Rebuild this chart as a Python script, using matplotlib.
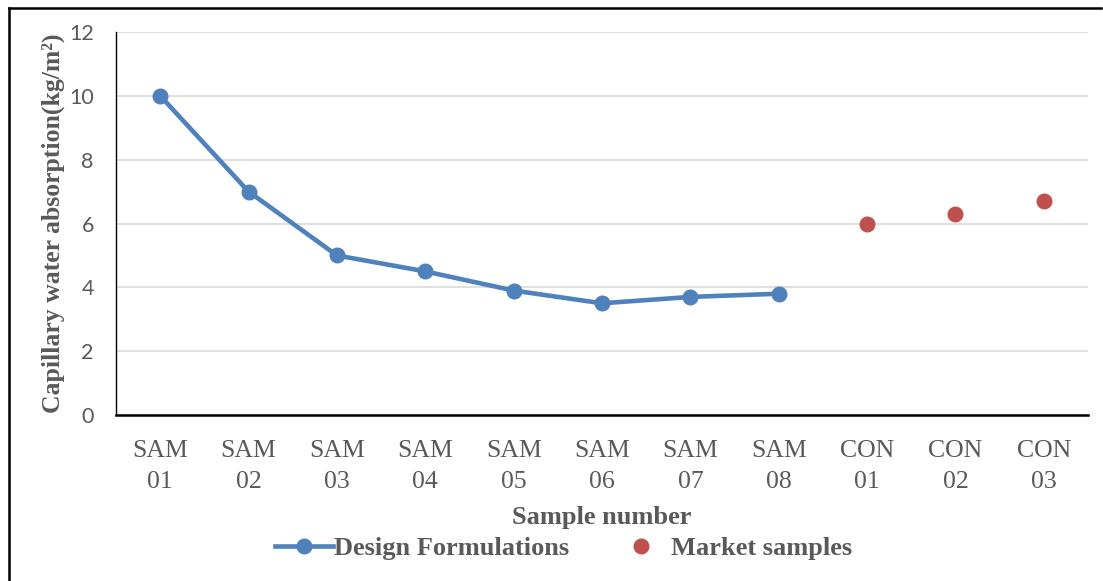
import matplotlib.pyplot as plt
from matplotlib.lines import Line2D

categories = ['SAM\n01', 'SAM\n02', 'SAM\n03', 'SAM\n04', 'SAM\n05', 'SAM\n06',
              'SAM\n07', 'SAM\n08', 'CON\n01', 'CON\n02', 'CON\n03']
design_values = [10.0, 7.0, 5.0, 4.5, 3.9, 3.5, 3.7, 3.8]
market_values = [6.0, 6.3, 6.7]
y_ticks = [0, 2, 4, 6, 8, 10, 12]

blue = '#4F81BD'
red = '#C0504D'
grey = '#595959'
serif = 'Liberation Serif'

fig = plt.figure(figsize=(11.03, 5.81), dpi=100)
ax = fig.add_axes([0.1052, 0.2857, 0.8812, 0.6592])

x_design = list(range(len(design_values)))
x_market = list(range(len(design_values), len(design_values) + len(market_values)))

ax.plot(x_design, design_values, color=blue, lw=3.3, marker='o', ms=10.5,
        label='Design Formulations', zorder=3)
ax.plot(x_market, market_values, ls='none', color=red, marker='o', ms=10.5,
        label='Market samples', zorder=3)

ax.set_xlim(-0.5, len(categories) - 0.5)
ax.set_ylim(0, 12)
ax.set_yticks(y_ticks)
ax.set_xticks(range(len(categories)))
ax.set_xticklabels(categories, fontfamily=serif, fontsize=18.5, color=grey,
                   linespacing=1.5)
for t in ax.get_yticklabels():
    t.set_fontfamily('Lato')
    t.set_fontsize(15.5)
    t.set_color(grey)
ax.tick_params(axis='both', length=0)
ax.tick_params(axis='x', pad=18)
ax.tick_params(axis='y', pad=16)

ax.grid(axis='y', color='#D9D9D9', lw=1.2)
ax.set_axisbelow(True)
for s in ['top', 'right']:
    ax.spines[s].set_visible(False)
ax.spines['left'].set_color('black')
ax.spines['left'].set_linewidth(1.0)
ax.spines['bottom'].set_color('black')
ax.spines['bottom'].set_linewidth(1.8)

ax.set_ylabel('Capillary water absorption(kg/m²)', fontfamily=serif,
              fontweight='bold', fontsize=18.5, color=grey, labelpad=3)
ax.set_xlabel('Sample number', fontfamily=serif, fontweight='bold',
              fontsize=19, color=grey, labelpad=10)

handles = [Line2D([], [], color=blue, lw=3.3, marker='o', ms=10.5),
           Line2D([], [], color=red, ls='none', marker='o', ms=10.5)]
fig.legend(handles, ['Design Formulations', 'Market samples'],
           loc='center', bbox_to_anchor=(0.511, 0.056), ncol=2, frameon=False,
           prop={'family': serif, 'weight': 'bold', 'size': 19},
           labelcolor=grey, handlelength=2.2, handletextpad=0.05,
           columnspacing=1.6)

# outer border (top and left edges visible)
fig.add_artist(Line2D([0.0082, 0.998], [0.9862, 0.9862], color='black', lw=1.8,
                      transform=fig.transFigure))
fig.add_artist(Line2D([0.0082, 0.0082], [0.0, 0.9862], color='black', lw=1.8,
                      transform=fig.transFigure))

fig.savefig('out.png', dpi=100)
